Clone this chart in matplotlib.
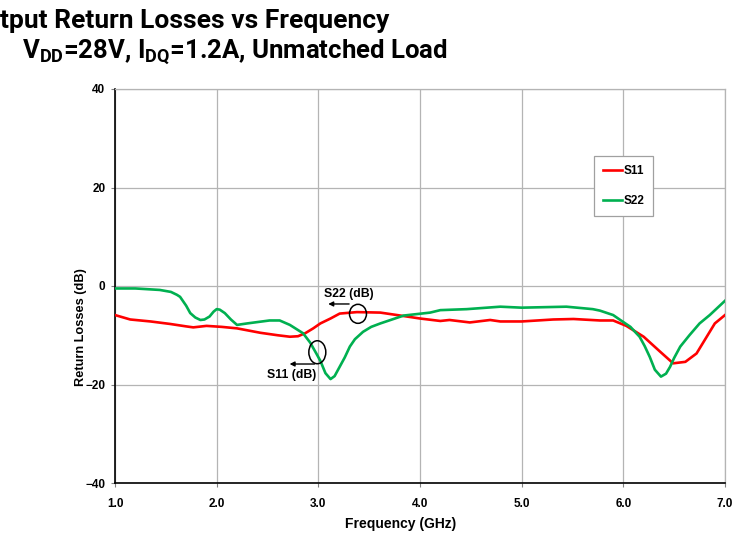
import matplotlib
matplotlib.use('Agg')
import matplotlib.pyplot as plt
from matplotlib.patches import Ellipse

# S11 (red)
f_s11 = [1.0, 1.15, 1.35, 1.54, 1.7, 1.77, 1.9, 2.05, 2.2, 2.43, 2.6, 2.72, 2.8, 2.87,
         2.95, 3.02, 3.12, 3.21, 3.38, 3.61, 3.84, 4.0, 4.2, 4.29, 4.49, 4.69, 4.79, 5.0,
         5.31, 5.51, 5.77, 5.9, 6.03, 6.2, 6.36, 6.49, 6.61, 6.72, 6.9, 7.0]
s11 = [-5.9, -6.8, -7.2, -7.7, -8.2, -8.4, -8.1, -8.3, -8.6, -9.5, -10.0, -10.3, -10.2, -9.6,
       -8.6, -7.6, -6.6, -5.6, -5.3, -5.4, -6.1, -6.6, -7.1, -6.9, -7.4, -6.9, -7.2, -7.2,
       -6.8, -6.7, -7.0, -7.0, -8.1, -10.3, -13.3, -15.7, -15.4, -13.7, -7.6, -5.9]

# S22 (green)
f_s22 = [1.0, 1.2, 1.44, 1.55, 1.61, 1.64, 1.70, 1.74, 1.79, 1.84, 1.88, 1.93, 1.97, 2.0,
         2.03, 2.08, 2.14, 2.2, 2.3, 2.52, 2.62, 2.72, 2.85, 2.92, 2.98, 3.02, 3.07, 3.12,
         3.16, 3.21, 3.26, 3.31, 3.36, 3.44, 3.52, 3.61, 3.84, 4.1, 4.2, 4.46, 4.79, 5.0,
         5.44, 5.7, 5.77, 5.9, 5.97, 6.07, 6.11, 6.16, 6.21, 6.26, 6.31, 6.37, 6.42, 6.46,
         6.50, 6.56, 6.65, 6.75, 6.85, 7.0]
s22 = [-0.5, -0.5, -0.8, -1.2, -1.8, -2.2, -4.0, -5.5, -6.4, -6.9, -6.8, -6.2, -5.2, -4.7,
       -4.8, -5.5, -6.8, -7.9, -7.6, -7.0, -7.0, -7.9, -9.6, -11.5, -13.7, -15.2, -17.7, -18.9,
       -18.3, -16.4, -14.5, -12.3, -10.8, -9.3, -8.3, -7.6, -6.0, -5.4, -4.9, -4.7, -4.2, -4.4,
       -4.2, -4.7, -5.0, -5.9, -6.9, -8.3, -9.2, -10.3, -12.2, -14.4, -17.0, -18.4, -17.8, -16.4,
       -14.6, -12.3, -10.0, -7.6, -5.9, -3.0]

x_ticks = [1.0, 2.0, 3.0, 4.0, 5.0, 6.0, 7.0]
y_ticks = [-40, -20, 0, 20, 40]

plt.rcParams['font.family'] = ['Liberation Sans', 'DejaVu Sans']
plt.rcParams['font.weight'] = 'bold'
plt.rcParams['mathtext.fontset'] = 'custom'
plt.rcParams['mathtext.rm'] = 'Roboto:bold'
plt.rcParams['mathtext.it'] = 'Roboto:bold'
plt.rcParams['mathtext.bf'] = 'Roboto:bold'

fig = plt.figure(figsize=(7.47, 5.38), dpi=100)
ax = fig.add_axes([115 / 747, 1 - 483 / 538, 610 / 747, 394 / 538])

ax.plot(f_s11, s11, color='#FF0000', lw=1.9, label='S11', zorder=3)
ax.plot(f_s22, s22, color='#00B050', lw=1.9, label='S22', zorder=3)

ax.set_xlim(1.0, 7.0)
ax.set_ylim(-40, 40)
ax.set_xticks(x_ticks)
ax.set_xticklabels([f'{v:.1f}' for v in x_ticks])
ax.set_yticks(y_ticks)
ax.tick_params(labelsize=8.5, length=3, color='#808080', pad=4)
ax.tick_params(axis='x', pad=8)
ax.grid(True, color='#B4B4B4', lw=0.9)
ax.set_axisbelow(True)
for s in ['top', 'right']:
    ax.spines[s].set_color('#B4B4B4')
    ax.spines[s].set_linewidth(0.9)
for s in ['left', 'bottom']:
    ax.spines[s].set_color('black')
    ax.spines[s].set_linewidth(1.2)

ax.set_xlabel('Frequency (GHz)', fontsize=10, fontweight='bold')
ax.xaxis.set_label_coords((401 - 115) / 610, -0.087)
ax.set_ylabel('Return Losses (dB)', fontsize=9.2, fontweight='bold')
ax.yaxis.set_label_coords(-0.046, 0.396)

leg = ax.legend(loc='upper left', bbox_to_anchor=(0.785, 0.830), fontsize=8.5,
                frameon=True, fancybox=False, edgecolor='#A0A0A0', framealpha=1,
                labelspacing=1.55, handlelength=1.6, handletextpad=0.15,
                borderpad=0.75, borderaxespad=0)
leg.get_frame().set_linewidth(0.9)

# annotations
ax.add_patch(Ellipse((3.39, -5.65), 0.167, 3.86, fill=False, ec='black', lw=1.1, zorder=4))
ax.add_patch(Ellipse((2.99, -13.45), 0.167, 4.67, fill=False, ec='black', lw=1.1, zorder=4))
ax.annotate('', xy=(3.07, -3.65), xytext=(3.33, -3.65),
            arrowprops=dict(arrowstyle='-|>', color='black', lw=1.0, mutation_scale=7))
ax.annotate('', xy=(2.69, -15.84), xytext=(2.99, -15.84),
            arrowprops=dict(arrowstyle='-|>', color='black', lw=1.0, mutation_scale=7))
ax.text(3.30, -1.62, 'S22 (dB)', fontsize=8.8, fontweight='bold', ha='center', va='center')
ax.text(2.74, -18.1, 'S11 (dB)', fontsize=8.8, fontweight='bold', ha='center', va='center')

# title, clipped at the left edge like the reference
fig.text(389 / 747, 1 - 28 / 538, 'Output Return Losses vs Frequency', fontsize=19,
         fontweight='bold', family='Roboto', ha='right', va='baseline')
fig.text(22 / 747, 1 - 58 / 538, r'V$_{\mathrm{DD}}$=28V, I$_{\mathrm{DQ}}$=1.2A, Unmatched Load',
         fontsize=18.5, fontweight='bold', family='Roboto', ha='left', va='baseline')

fig.savefig('out.png', dpi=100)
